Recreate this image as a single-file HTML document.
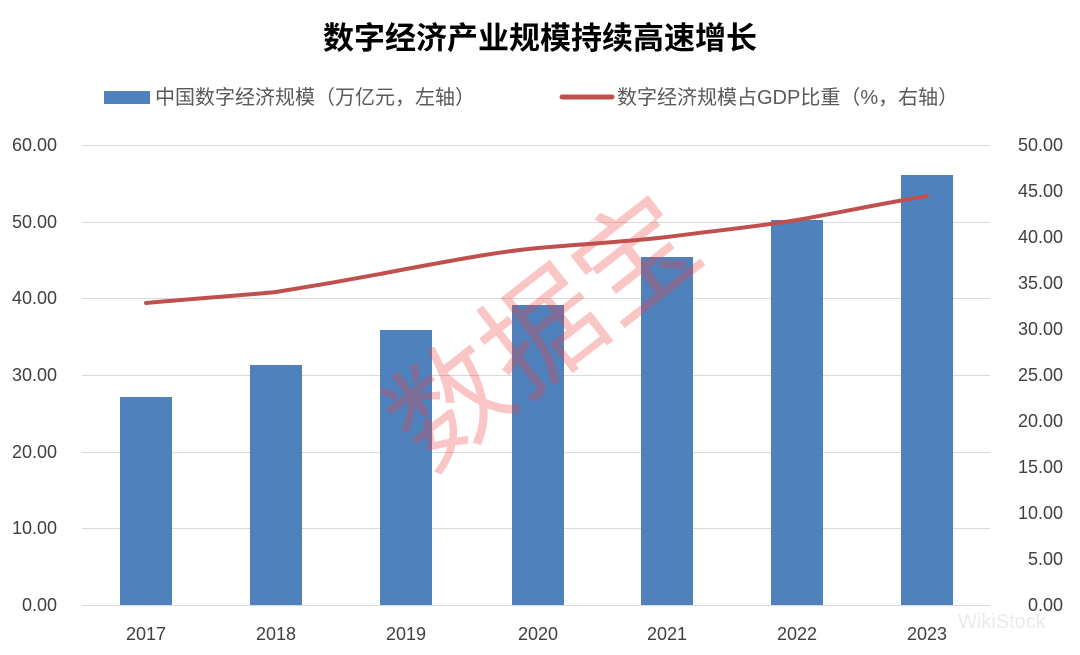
<!DOCTYPE html>
<html><head><meta charset="utf-8"><style>
body{margin:0;background:#fff;}
svg{display:block;font-family:"Liberation Sans","Noto Sans CJK SC",sans-serif;}
</style></head><body>
<svg width="1080" height="655" viewBox="0 0 1080 655" xmlns="http://www.w3.org/2000/svg">
<rect width="1080" height="655" fill="#fff"/>
<text x="540" y="49" text-anchor="middle" font-size="31" font-weight="bold" fill="#000">数字经济产业规模持续高速增长</text>
<rect x="104" y="91" width="46" height="13" fill="#4f81bd"/>
<text x="155" y="104" font-size="20" fill="#595959">中国数字经济规模（万亿元，左轴）</text>
<line x1="562" y1="97" x2="612" y2="97" stroke="#c0504d" stroke-width="5" stroke-linecap="round"/>
<text x="617" y="104" font-size="20" fill="#595959">数字经济规模占GDP比重（%，右轴）</text>
<g stroke="#d9d9d9" stroke-width="1">
<line x1="82" y1="145.5" x2="990" y2="145.5"/>
<line x1="82" y1="222.5" x2="990" y2="222.5"/>
<line x1="82" y1="298.5" x2="990" y2="298.5"/>
<line x1="82" y1="375.5" x2="990" y2="375.5"/>
<line x1="82" y1="452.5" x2="990" y2="452.5"/>
<line x1="82" y1="528.5" x2="990" y2="528.5"/>
<line x1="82" y1="605.5" x2="990" y2="605.5"/>
</g>
<g font-size="18" fill="#404040" text-anchor="end">
<text x="57" y="151">60.00</text><text x="57" y="228">50.00</text><text x="57" y="304">40.00</text>
<text x="57" y="381">30.00</text><text x="57" y="458">20.00</text><text x="57" y="534">10.00</text><text x="57" y="611">0.00</text>
</g>
<g font-size="18" fill="#404040" text-anchor="end">
<text x="1063" y="151">50.00</text><text x="1063" y="197">45.00</text><text x="1063" y="243">40.00</text>
<text x="1063" y="289">35.00</text><text x="1063" y="335">30.00</text><text x="1063" y="381">25.00</text>
<text x="1063" y="427">20.00</text><text x="1063" y="473">15.00</text><text x="1063" y="519">10.00</text>
<text x="1063" y="565">5.00</text><text x="1063" y="611">0.00</text>
</g>
<g fill="#4f81bd">
<rect x="120" y="397" width="52" height="208"/>
<rect x="250" y="365" width="52" height="240"/>
<rect x="380" y="330" width="52" height="275"/>
<rect x="512" y="305" width="52" height="300"/>
<rect x="641" y="257" width="52" height="348"/>
<rect x="771" y="220" width="52" height="385"/>
<rect x="901" y="175" width="52" height="430"/>
</g>
<text x="345" y="430" transform="rotate(-38 450 330)" font-size="118" fill="#f04040" fill-opacity="0.3">数据宝</text>
<path d="M146,303 C190,299 235,296 276,292 C320,285 365,277 406,269 C450,261 495,252 538,248 C582,244 625,242 667,237 C712,231 755,227 797,220 C842,212 885,203 927,196" fill="none" stroke="#c0504d" stroke-width="4" stroke-linecap="round"/>
<g font-size="18" fill="#404040" text-anchor="middle">
<text x="146" y="640">2017</text><text x="276" y="640">2018</text><text x="406" y="640">2019</text>
<text x="538" y="640">2020</text><text x="667" y="640">2021</text><text x="797" y="640">2022</text><text x="927" y="640">2023</text>
</g>
<text x="958" y="628" font-size="20" fill="#ddd" fill-opacity="0.6">WikiStock</text>
</svg>
</body></html>
